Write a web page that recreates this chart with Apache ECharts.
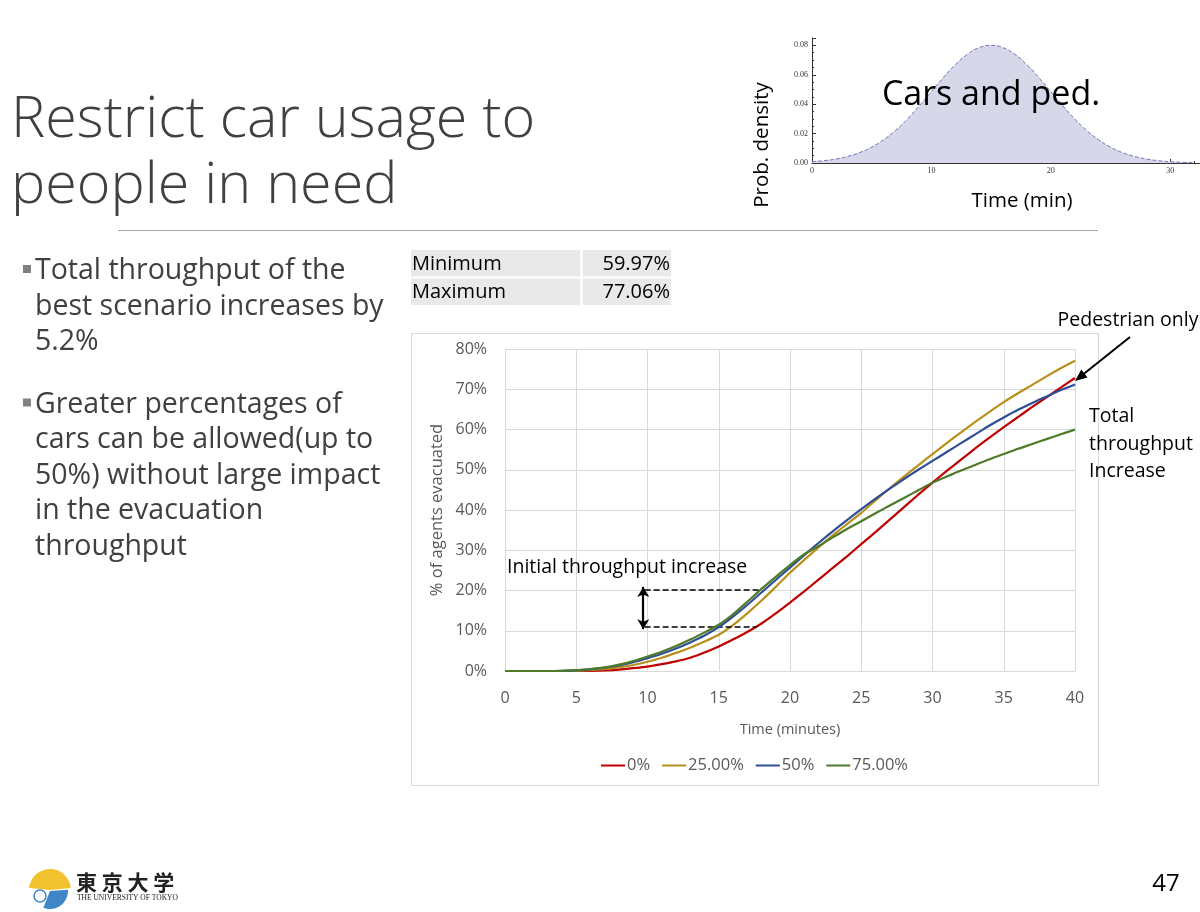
<!DOCTYPE html>
<html>
<head>
<meta charset="utf-8">
<script src="https://cdn.jsdelivr.net/npm/echarts@6/dist/echarts.min.js"></script>
<style>
html, body { margin: 0; padding: 0; background: #fff; }
#slide { width: 1200px; height: 912px; }
</style>
</head>
<body>
<div id="slide"></div>
<script>
// time axis (minutes) shared by the four scenarios
const times = [0, 1, 2, 3, 4, 5, 6, 7, 8, 9, 10, 11, 12, 13, 14, 15, 16, 17, 18, 19, 20,
  21, 22, 23, 24, 25, 26, 27, 28, 29, 30, 31, 32, 33, 34, 35, 36, 37, 38, 39, 40];

// % of agents evacuated
const pct0 = [0, 0, 0, 0, 0, 0, 0.05, 0.15, 0.35, 0.7, 1.1, 1.7, 2.4, 3.3, 4.6, 6.1, 7.8, 9.7, 11.8, 14.3,
  17.0, 19.8, 22.7, 25.6, 28.5, 31.5, 34.5, 37.6, 40.7, 43.8, 46.8, 49.7, 52.5, 55.3, 58.0, 60.6, 63.1, 65.6, 68.0, 70.4, 72.8];
const pct25 = [0, 0, 0, 0, 0, 0.05, 0.2, 0.5, 0.9, 1.5, 2.3, 3.3, 4.5, 5.8, 7.3, 9.0, 11.4, 14.3, 17.5, 20.9,
  24.4, 27.6, 30.7, 33.7, 36.5, 39.3, 42.4, 45.4, 48.3, 51.1, 53.9, 56.6, 59.3, 61.9, 64.4, 66.8, 69.0, 71.1, 73.2, 75.2, 77.06];
const pct50 = [0, 0, 0, 0, 0.05, 0.15, 0.4, 0.8, 1.4, 2.2, 3.2, 4.3, 5.6, 7.1, 8.8, 10.9, 13.5, 16.4, 19.5, 22.6,
  25.7, 28.8, 31.8, 34.7, 37.5, 40.2, 42.8, 45.3, 47.7, 50.0, 52.2, 54.4, 56.6, 58.8, 61.0, 63.0, 64.9, 66.6, 68.2, 69.8, 71.2];
const pct75 = [0, 0, 0, 0, 0.05, 0.2, 0.5, 0.9, 1.6, 2.5, 3.6, 4.8, 6.2, 7.8, 9.6, 11.5, 14.1, 17.2, 20.4, 23.4,
  26.3, 29.0, 31.0, 33.2, 35.3, 37.2, 39.2, 41.1, 43.0, 44.9, 46.8, 48.3, 49.8, 51.2, 52.6, 53.9, 55.2, 56.4, 57.6, 58.8, 59.97];

const seriesNames = ["0%", "25.00%", "50%", "75.00%"];
const seriesColors = ["#C00000", "#B8901A", "#2E4E96", "#4E7A2A"];
const seriesValues = [pct0, pct25, pct50, pct75];

// inset: arrival time density (cars and ped.)
const densT = [0, 1, 2, 3, 4, 5, 6, 7, 8, 9, 10, 11, 12, 13, 14, 15, 16, 17, 18, 19, 20,
  21, 22, 23, 24, 25, 26, 27, 28, 29, 30, 31, 32];
const densV = [0.0009, 0.0016, 0.0027, 0.0045, 0.0071, 0.0108, 0.0158, 0.0222, 0.0300, 0.0390, 0.0485,
  0.0581, 0.0668, 0.0738, 0.0784, 0.0800, 0.0784, 0.0738, 0.0668, 0.0581, 0.0485,
  0.0390, 0.0300, 0.0222, 0.0158, 0.0108, 0.0071, 0.0045, 0.0027, 0.0016, 0.0009, 0.0005, 0.0002];

// min / max table
const tableRows = ["Minimum", "Maximum"];
const tableVals = ["59.97%", "77.06%"];

const bullets = [
  ["Total throughput of the", "best scenario increases by", "5.2%"],
  ["Greater percentages of", "cars can be allowed(up to", "50%) without large impact", "in the evacuation", "throughput"]
];

const chart = echarts.init(document.getElementById("slide"));

const font = '"Open Sans", "Noto Sans", sans-serif';
const gray = "#595959";

function txt(x, y, text, size, opts) {
  opts = opts || {};
  return {
    type: "text",
    x: x,
    y: y,
    z: 20,
    rotation: opts.rotation || 0,
    style: {
      text: text,
      font: (opts.weight || "normal") + " " + size + "px " + (opts.family || font),
      fill: opts.color || "#404040",
      textAlign: opts.align || "left",
      textVerticalAlign: "middle",
    },
  };
}

const graphics = [];

// chart frame
graphics.push({
  type: "rect",
  z: -10,
  shape: { x: 411.5, y: 333.5, width: 687, height: 452 },
  style: { fill: "#fff", stroke: "#d9d9d9", lineWidth: 1 },
});

// title + rule
graphics.push(txt(11, 121, "Restrict car usage to", 57.5, { weight: 300 }));
graphics.push(txt(11, 187, "people in need", 57.5, { weight: 300 }));
graphics.push({
  type: "line",
  shape: { x1: 118, y1: 230.5, x2: 1098, y2: 230.5 },
  style: { stroke: "#a6a6a6", lineWidth: 1 },
});

// bullets
let by = 271;
bullets.forEach((b) => {
  graphics.push({
    type: "rect",
    shape: { x: 23, y: by - 6, width: 8, height: 8 },
    style: { fill: "#808080" },
  });
  b.forEach((line) => {
    graphics.push(txt(35, by, line, 28.5));
    by += 35.5;
  });
  by += 27;
});

// table
tableRows.forEach((r, i) => {
  const y0 = 250 + i * 28.5;
  graphics.push({ type: "rect", shape: { x: 411, y: y0, width: 169, height: 26.5 }, style: { fill: "#e9e9e9" } });
  graphics.push({ type: "rect", shape: { x: 583, y: y0, width: 88, height: 26.5 }, style: { fill: "#e9e9e9" } });
  graphics.push(txt(412, y0 + 14, r, 20, { color: "#000" }));
  graphics.push(txt(670, y0 + 14, tableVals[i], 20, { color: "#000", align: "right" }));
});

// annotations on the main chart
graphics.push(txt(1128, 320, "Pedestrian only", 19.5, { color: "#000", align: "center" }));
graphics.push({ type: "line", z: 20, shape: { x1: 1130, y1: 337, x2: 1083, y2: 374.5 }, style: { stroke: "#000", lineWidth: 2 } });
graphics.push({ type: "polygon", z: 20, shape: { points: [[1075, 381], [1087.5, 377.4], [1081.3, 369.6]] }, style: { fill: "#000" } });
graphics.push(txt(1089, 416, "Total", 19.5, { color: "#000" }));
graphics.push(txt(1089, 444, "throughput", 19.5, { color: "#000" }));
graphics.push(txt(1089, 471, "Increase", 19.5, { color: "#000" }));
graphics.push(txt(507, 567, "Initial throughput increase", 19.5, { color: "#000" }));

// inset labels
graphics.push(txt(762, 145, "Prob. density", 20.5, { color: "#000", align: "center", rotation: Math.PI / 2 }));
graphics.push(txt(1022, 201, "Time (min)", 20.5, { color: "#000", align: "center" }));
graphics.push(txt(991, 95, "Cars and ped.", 34, { color: "#000", align: "center" }));

// logo
graphics.push({ type: "sector", shape: { cx: 50, cy: 890, r: 21, r0: 0, startAngle: Math.PI * 1.03, endAngle: Math.PI * 1.97 }, style: { fill: "#F2C12E" } });
graphics.push({ type: "sector", shape: { cx: 50, cy: 891, r: 18, r0: 0, startAngle: -Math.PI * 0.02, endAngle: Math.PI * 0.62 }, style: { fill: "#3F86C8" } });
graphics.push({ type: "circle", shape: { cx: 40, cy: 896, r: 6 }, style: { fill: "#fff", stroke: "#3F86C8", lineWidth: 1.5 } });
graphics.push(txt(76, 882, "東 京 大 学", 21, { color: "#222", family: '"Noto Sans CJK JP", sans-serif', weight: "bold" }));
graphics.push(txt(77, 898, "THE UNIVERSITY OF TOKYO", 7.5, { color: "#222", family: '"Liberation Serif", serif' }));

// page number
graphics.push(txt(1166, 884, "47", 24, { color: "#000", align: "center" }));

const mainSeries = seriesNames.map((name, k) => ({
  name: name,
  type: "line",
  xAxisIndex: 0,
  yAxisIndex: 0,
  data: times.map((t, i) => [t, seriesValues[k][i]]),
  smooth: 0.25,
  showSymbol: false,
  symbol: "none",
  lineStyle: { color: seriesColors[k], width: 2.2 },
  itemStyle: { color: seriesColors[k] },
  z: 3 + k,
}));

// dashed guides + double arrow of "Initial throughput increase"
mainSeries[0].markLine = {
  silent: true,
  animation: false,
  symbol: ["none", "none"],
  label: { show: false },
  lineStyle: { color: "#000", type: "dashed", width: 1.5 },
  data: [
    [{ coord: [9.8, 20.3] }, { coord: [17.9, 20.3] }],
    [{ coord: [9.8, 11.0] }, { coord: [17.65, 11.0] }],
    [
      { coord: [9.7, 20.9], symbol: "arrow", symbolSize: [9, 10], lineStyle: { type: "solid", width: 2.2 } },
      { coord: [9.7, 10.4], symbol: "arrow", symbolSize: [9, 10] },
    ],
  ],
};

chart.setOption({
  animation: false,
  textStyle: { fontFamily: font },
  graphic: graphics,
  legend: {
    data: seriesNames,
    left: 596,
    top: 752,
    icon: "rect",
    itemWidth: 24,
    itemHeight: 2,
    itemGap: 12,
    textStyle: { color: gray, fontSize: 16.5, fontFamily: font, padding: [0, 0, 0, -3] },
  },
  grid: [
    { left: 505, top: 349, width: 570, height: 322 },
    { left: 812, top: 38, width: 390, height: 125 },
  ],
  xAxis: [
    {
      type: "value",
      gridIndex: 0,
      min: 0,
      max: 40,
      interval: 5,
      axisLine: { lineStyle: { color: "#d9d9d9" } },
      axisTick: { show: false },
      splitLine: { lineStyle: { color: "#d9d9d9" } },
      axisLabel: { color: gray, fontSize: 16, margin: 19 },
      name: "Time (minutes)",
      nameLocation: "middle",
      nameGap: 51,
      nameTextStyle: { color: gray, fontSize: 14.5 },
    },
    {
      type: "value",
      gridIndex: 1,
      min: 0,
      max: 32.5,
      interval: 10,
      axisLine: { lineStyle: { color: "#333", width: 1 } },
      axisTick: { inside: true, length: 4, lineStyle: { color: "#333" } },
      minorTick: { show: true, splitNumber: 5, length: 2, lineStyle: { color: "#333" } },
      splitLine: { show: false },
      axisLabel: { color: "#333", fontSize: 8, margin: 4, fontFamily: '"Liberation Serif", serif', showMaxLabel: false },
    },
  ],
  yAxis: [
    {
      type: "value",
      gridIndex: 0,
      min: 0,
      max: 80,
      interval: 10,
      axisLine: { show: false },
      axisTick: { show: false },
      splitLine: { lineStyle: { color: "#d9d9d9" } },
      axisLabel: { color: gray, fontSize: 16, margin: 18, formatter: "{value}%" },
      name: "% of agents evacuated",
      nameLocation: "middle",
      nameGap: 59,
      nameTextStyle: { color: gray, fontSize: 16.5 },
    },
    {
      type: "value",
      gridIndex: 1,
      min: 0,
      max: 0.085,
      interval: 0.02,
      axisLine: { show: true, lineStyle: { color: "#333", width: 1 } },
      axisTick: { show: true, inside: true, length: 4, lineStyle: { color: "#333" } },
      minorTick: { show: true, splitNumber: 4, length: 2, lineStyle: { color: "#333" } },
      splitLine: { show: false },
      axisLabel: {
        color: "#333",
        fontSize: 8,
        margin: 4,
        fontFamily: '"Liberation Serif", serif',
        showMaxLabel: false,
        formatter: (v) => v.toFixed(2),
      },
    },
  ],
  series: mainSeries.concat([
    {
      type: "line",
      xAxisIndex: 1,
      yAxisIndex: 1,
      data: densT.map((t, i) => [t, densV[i]]),
      smooth: true,
      symbol: "none",
      lineStyle: { color: "#7070b8", width: 1, type: "dashed" },
      areaStyle: { color: "#d7d7ea", opacity: 1 },
      z: 2,
    },
  ]),
});
</script>
</body>
</html>
